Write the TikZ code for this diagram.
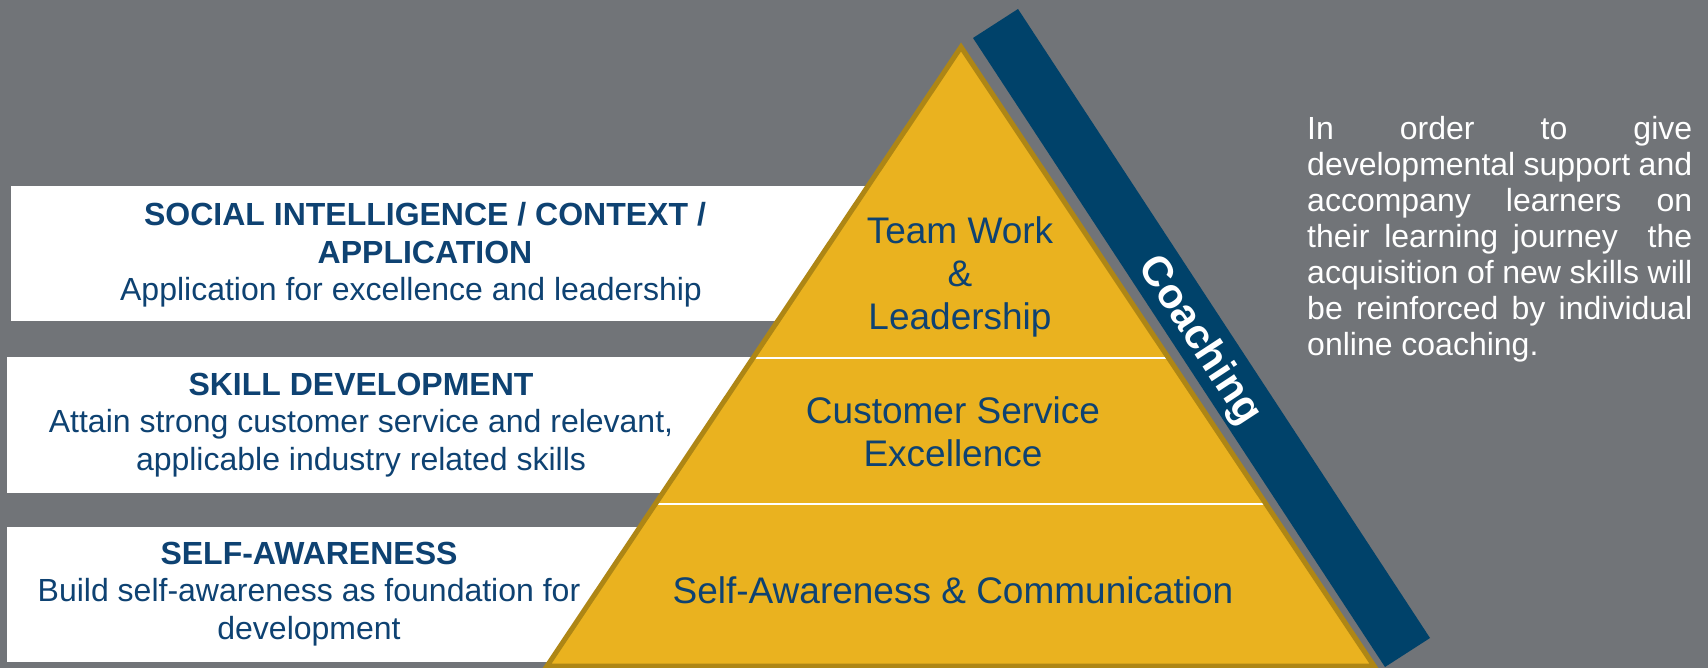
\documentclass[tikz,border=0pt]{standalone}
\usepackage{fontspec}
\setmainfont{Liberation Sans}
\usetikzlibrary{calc}

\definecolor{slate}{HTML}{717478}
\definecolor{navy}{HTML}{00426A}
\definecolor{ochre}{HTML}{EAB21F}
\definecolor{ochredark}{HTML}{AE8615}
\definecolor{inkblue}{HTML}{0E4272}

\tolerance=9999
\hyphenpenalty=10000

\tikzset{
  panel/.style={fill=white},
  paneltext/.style={text=inkblue, align=center, inner sep=0pt,
    font=\fontsize{32}{37.5}\selectfont},
  tiertext/.style={text=inkblue, align=center, inner sep=0pt,
    font=\fontsize{37}{43}\selectfont},
  divider/.style={draw=white, line width=2pt},
}

\begin{document}
\begin{tikzpicture}[x=1pt,y=-1pt]
\useasboundingbox (0,0) rectangle (1708,668);
\fill[slate] (0,0) rectangle (1708,668);

% white panels, they run in under the pyramid
\fill[panel] (11,186) rectangle (900,321);
\fill[panel] (7,357) rectangle (900,493);
\fill[panel] (7,527) rectangle (900,662);

% coaching band along the right flank
\fill[navy] (973,38) -- (1018,9) -- (1430,638) -- (1385,667) -- cycle;

% pyramid
\coordinate (apex) at (961,47);
\coordinate (bl) at (547,666);
\coordinate (br) at (1374,666);
\fill[ochre] (apex) -- (bl) -- (br) -- cycle;
\draw[divider] ($(apex)!0.5024!(bl)$) -- ($(apex)!0.5024!(br)$);
\draw[divider] ($(apex)!0.7383!(bl)$) -- ($(apex)!0.7383!(br)$);
\draw[ochredark, line width=5pt] (apex) -- (bl) -- (br) -- cycle;

% panel texts
\node[paneltext] (social) at (425,255)
  {\textbf{SOCIAL INTELLIGENCE / CONTEXT /}\\\textbf{APPLICATION}\\Application for excellence and leadership\hspace*{28pt}};
\node[paneltext] (skill) at (361,425)
  {\textbf{SKILL DEVELOPMENT}\\Attain strong customer service and relevant,\\applicable industry related skills};
\node[paneltext] (self) at (309,594)
  {\textbf{SELF-AWARENESS}\\Build self-awareness as foundation for\\development};

% tiers
\node[tiertext] (team) at (960,277) {Team Work\\\&\\Leadership};
\node[tiertext] (service) at (953,432) {Customer Service\\Excellence};
\node[tiertext] (awareness) at (953,590) {Self-Awareness \& Communication};

\node[text=white, font=\bfseries\fontsize{42}{42}\selectfont, rotate=-56.8] (coaching) at (1199,341) {Coaching};

% side note
\node[text=white, text width=385pt, align=justify, inner sep=0pt, anchor=north west,
  font=\fontsize{32}{36}\selectfont] (note) at (1307,116)
  {In order to give\linebreak developmental support and\linebreak accompany learners on\linebreak
   their learning journey\ \ the\linebreak acquisition of new skills will\linebreak
   be reinforced by individual\linebreak online coaching.};
\end{tikzpicture}
\end{document}
